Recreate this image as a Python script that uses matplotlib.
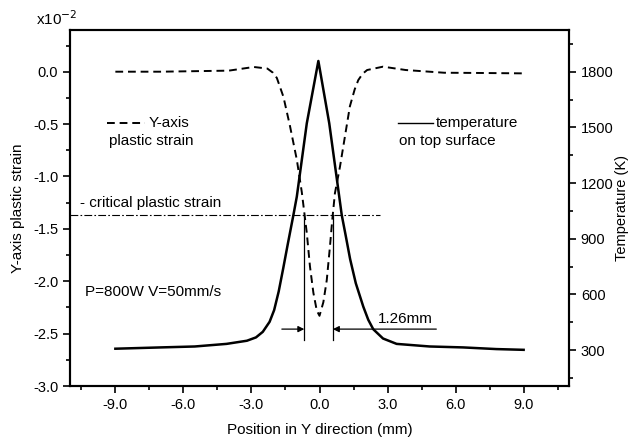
import numpy as np
import matplotlib as mpl
mpl.use('Agg')
import matplotlib.pyplot as plt
from matplotlib.ticker import MultipleLocator, FormatStrFormatter

# Y-axis plastic strain (x1e-2) along Y
strain_x = [-9.0, -7.0, -5.5, -4.0, -2.9, -2.3, -2.05, -1.88, -1.59, -1.3, -1.0, -0.78,
            -0.56, -0.42, -0.27, -0.12, 0.0, 0.17, 0.32, 0.46, 0.56, 0.68, 0.9, 1.12,
            1.34, 1.55, 1.71, 1.9, 2.1, 2.8, 3.8, 5.5, 7.0, 9.0]
strain = [0.0, 0.0, 0.005, 0.01, 0.045, 0.03, -0.01, -0.06, -0.24, -0.52, -0.84, -1.15,
          -1.54, -1.86, -2.11, -2.28, -2.33, -2.2, -1.99, -1.67, -1.42, -1.16, -0.91, -0.62,
          -0.33, -0.17, -0.08, -0.02, 0.016, 0.048, 0.016, -0.01, -0.012, -0.016]

# temperature on top surface (K)
temp_x = [-9.0, -7.0, -5.5, -4.1, -3.2, -2.8, -2.5, -2.2, -2.0, -1.8, -1.6, -1.4,
          -1.15, -1.0, -0.56, -0.05, 0.43, 0.87, 0.98, 1.15, 1.35, 1.6, 1.93, 2.15,
          2.37, 2.8, 3.4, 4.86, 6.33, 7.8, 9.0]
temp = [307, 314, 319, 333, 350, 368, 398, 452, 515, 615, 740, 870,
        1028, 1127, 1522, 1858, 1522, 1127, 1028, 920, 790, 660, 534, 463,
        412, 362, 333, 319, 314, 305, 301]

crit_strain = -1.37
crit_end = 2.66
width_left, width_right = -0.67, 0.59
arrow_y = -2.457

plt.rcParams['font.family'] = ['Liberation Sans', 'DejaVu Sans']
plt.rcParams['axes.unicode_minus'] = False
fs = 11

fig = plt.figure(figsize=(6.29, 4.45), dpi=100)
ax = fig.add_axes([70/629, 1-386/445, 499/629, 356/445])
ax2 = ax.twinx()

ax.plot(strain_x, strain, color='black', lw=1.4, linestyle=(0, (4, 2.5)))
ax2.plot(temp_x, temp, color='black', lw=1.8)

# critical strain line and 1.26mm width marks
ax.plot([-11, crit_end], [crit_strain, crit_strain], color='black', lw=0.8,
        linestyle=(0, (7, 2, 1.5, 2)))
for xv in (width_left, width_right):
    ax.plot([xv, xv], [crit_strain, -2.56], color='black', lw=0.9)
ax.annotate('', xy=(width_left, arrow_y), xytext=(-1.66, arrow_y),
            arrowprops=dict(arrowstyle='-|>', color='black', lw=0.9,
                            mutation_scale=9, shrinkA=0, shrinkB=0))
ax.annotate('', xy=(width_right, arrow_y), xytext=(5.15, arrow_y),
            arrowprops=dict(arrowstyle='-|>', color='black', lw=0.9,
                            mutation_scale=9, shrinkA=0, shrinkB=0))
ax.text(2.58, -2.43, '1.26mm', fontsize=fs, ha='left', va='bottom')

ax.text(-10.54, -1.253, '- critical plastic strain', fontsize=fs, ha='left', va='center')
ax.text(-10.32, -2.10, 'P=800W V=50mm/s', fontsize=fs, ha='left', va='center')

# hand drawn legends
ax.plot([-9.35, -7.68], [-0.49, -0.49], color='black', lw=1.4, linestyle=(0, (4, 2.5)))
ax.text(-7.55, -0.49, 'Y-axis', fontsize=fs, ha='left', va='center')
ax.text(-9.3, -0.66, 'plastic strain', fontsize=fs, ha='left', va='center')
ax.plot([3.44, 5.0], [-0.49, -0.49], color='black', lw=1.0)
ax.text(5.12, -0.49, 'temperature', fontsize=fs, ha='left', va='center')
ax.text(3.5, -0.66, 'on top surface', fontsize=fs, ha='left', va='center')

ax.set_xlim(-11, 11)
ax.set_ylim(-3.0, 0.398)
ax2.set_ylim(106, 2025)

ax.xaxis.set_major_locator(MultipleLocator(3))
ax.xaxis.set_minor_locator(MultipleLocator(1.5))
ax.xaxis.set_major_formatter(FormatStrFormatter('%.1f'))
ax.yaxis.set_major_locator(MultipleLocator(0.5))
ax.yaxis.set_minor_locator(MultipleLocator(0.25))
ax.yaxis.set_major_formatter(FormatStrFormatter('%.1f'))
ax2.yaxis.set_major_locator(MultipleLocator(300))
ax2.yaxis.set_minor_locator(MultipleLocator(150))

for a in (ax, ax2):
    a.tick_params(which='both', direction='out', labelsize=10.5, width=1.2)
    a.tick_params(which='major', length=5)
    a.tick_params(which='minor', length=3)
    for s in a.spines.values():
        s.set_linewidth(1.5)

ax.set_xlabel('Position in Y direction (mm)', fontsize=fs, labelpad=8)
ax.set_ylabel('Y-axis plastic strain', fontsize=fs, labelpad=6)
ax2.set_ylabel('Temperature (K)', fontsize=10.5, labelpad=1)

fig.text(36/629, 1-19/445, 'x10$^{-2}$', fontsize=fs, ha='left', va='center')

fig.savefig('out.png', dpi=100)
